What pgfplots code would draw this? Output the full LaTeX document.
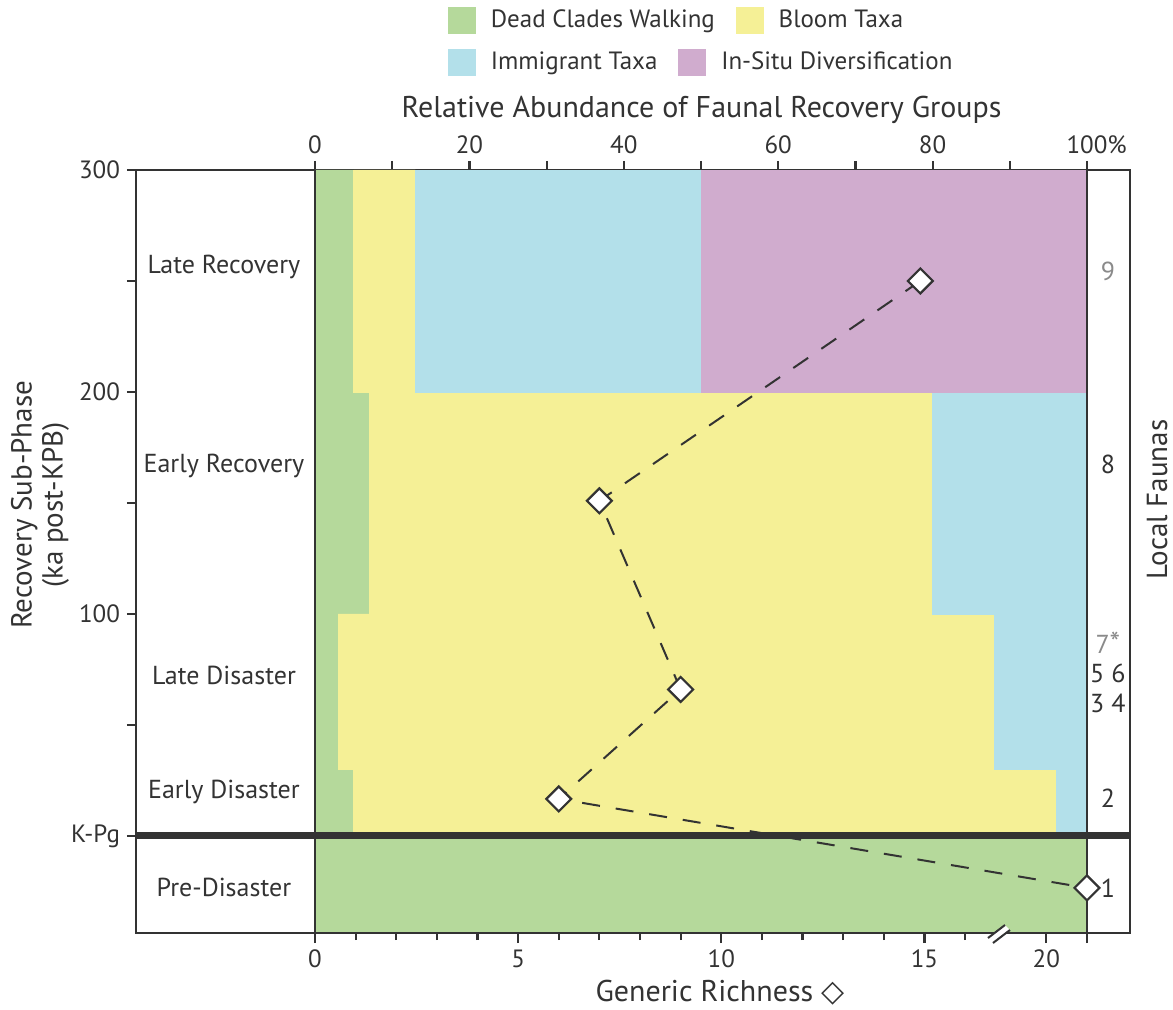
\documentclass[border=0pt]{standalone}
\usepackage{pgfplots}
\pgfplotsset{compat=1.18}
\usepackage{fontspec}
\setmainfont{PT Sans}
\newfontfamily\symfont{DejaVu Sans}
\definecolor{cgreen}{HTML}{B5D99B}
\definecolor{cyellow}{HTML}{F5F096}
\definecolor{cblue}{HTML}{B3E0EA}
\definecolor{cpurple}{HTML}{D0ACCE}
\definecolor{dk}{HTML}{333333}
\definecolor{gtext}{HTML}{8A8A8A}
\begin{document}
\begin{tikzpicture}
\useasboundingbox (-68pt,-38pt) rectangle (518.5pt,466.5pt);
\pgfplotsset{
  base/.style={
    scale only axis, width=497pt, height=381.5pt,
    at={(0,0)}, anchor=south west,
    ymin=-43.7, ymax=300,
    clip=false,
    axis line style={dk, line width=1.2pt},
    tick style={dk, line width=1.1pt},
    tick align=outside,
    every tick label/.append style={font=\fontsize{12.5}{14}\selectfont, text=dk},
    /pgf/number format/assume math mode=true,
    legend columns=2,
    legend image code/.code={\fill[##1] (0pt,-6.5pt) rectangle (13.5pt,6.5pt);},
  },
  legrow/.style={legend style={at={(axis description cs:0.3139,#1)}, anchor=west,
    draw=none, fill=none, inner sep=0pt, outer sep=0pt,
    font=\fontsize{12.5}{14}\selectfont, text=dk,
    nodes={inner sep=0pt},
    /tikz/every odd column/.append style={column sep=7.5pt},
    /tikz/every even column/.append style={column sep=10.5pt}}},
}
\begin{axis}[base, legrow=1.1966,
  major tick length=4.5pt, minor tick length=4.5pt,
  xmin=-23.19, xmax=105.57,
  xtick={0,20,40,60,80,100}, xticklabels={0,20,40,60,80,100\rlap{\%}},
  minor xtick={10,30,50,70,90},
  xtick pos=right, xticklabel pos=right,
  ytick={0,100,200,300}, yticklabels={K-Pg,100,200,300},
  minor ytick={50,150,250},
  ytick pos=left,
  xlabel={Relative Abundance of Faunal Recovery Groups},
  xlabel style={at={(axis description cs:0.569,1.0786)}, anchor=center, font=\fontsize{15}{17}\selectfont, text=dk},
  ylabel={Recovery Sub-Phase\\(ka post-KPB)},
  ylabel style={at={(axis description cs:-0.0966,0.561)}, anchor=center, align=center, font=\fontsize{14.5}{15.5}\selectfont, text=dk},
]
\addlegendimage{cgreen}\addlegendentry{Dead Clades Walking}
\addlegendimage{cyellow}\addlegendentry{Bloom Taxa}
% Dead Clades Walking
\addplot[fill=cgreen, draw=cgreen, line width=0.2pt, forget plot] coordinates {(0,-43.7) (100,-43.7) (100,0) (5,0) (5,30) (3,30) (3,100) (7,100) (7,200) (5,200) (5,300) (0,300)} -- cycle;
% Bloom Taxa
\addplot[fill=cyellow, draw=cyellow, line width=0.2pt, forget plot] coordinates {(5,0) (96,0) (96,30) (88,30) (88,100) (80,100) (80,200) (13,200) (13,300) (5,300) (5,200) (7,200) (7,100) (3,100) (3,30) (5,30)} -- cycle;
% Immigrant Taxa
\addplot[fill=cblue, draw=cblue, line width=0.2pt, forget plot] coordinates {(96,0) (100,0) (100,200) (80,200) (80,100) (88,100) (88,30) (96,30)} -- cycle;
\addplot[fill=cblue, draw=cblue, line width=0.2pt, forget plot] coordinates {(13,200) (50,200) (50,300) (13,300)} -- cycle;
% In-Situ Diversification
\addplot[fill=cpurple, draw=cpurple, line width=0.2pt, forget plot] coordinates {(50,200) (100,200) (100,300) (50,300)} -- cycle;
% frame lines
\draw[dk, line width=1.1pt] (axis cs:0,-43.7) -- (axis cs:0,300);
\draw[dk, line width=1.1pt] (axis cs:100,-43.7) -- (axis cs:100,300);
\draw[dk, line width=3.5pt] (axis cs:-23.19,0) -- (axis cs:105.57,0);
% phase labels
\begin{scope}[every node/.style={font=\fontsize{13}{15}\selectfont, text=dk}]
\node at (axis cs:-11.8,256.3) {Late Recovery};
\node at (axis cs:-11.8,166.7) {Early Recovery};
\node at (axis cs:-11.8,72.1) {Late Disaster};
\node at (axis cs:-11.8,19.8) {Early Disaster};
\node at (axis cs:-11.8,-23.4) {Pre-Disaster};
\node[text=gtext] at (axis cs:102.7,254.5) {9};
\node at (axis cs:102.7,167.6) {8};
\node[text=gtext] at (axis cs:102.7,86.9) {7{\fontsize{15}{15}\selectfont*}};
\node at (axis cs:102.7,73.4) {5 6};
\node at (axis cs:102.7,59.9) {3 4};
\node at (axis cs:102.7,17.1) {2};
\node at (axis cs:102.7,-23.4) {1};
\end{scope}
\node[rotate=90, font=\fontsize{14.5}{16}\selectfont, text=dk] at (axis description cs:1.0272,0.568) {Local Faunas};
\end{axis}
\begin{axis}[base, legrow=1.1416,
  major tick length=5pt, minor tick length=3.5pt,
  xmin=-4.405, xmax=20.06,
  axis x line*=bottom, axis y line=none, x axis line style={-},
  xtick={0,5,10,15,18,19}, xticklabels={0,5,10,15,20,{}},
  minor xtick={1,2,3,4,6,7,8,9,11,12,13,14,16},
  xlabel={Generic Richness {\symfont ◇}},
  xlabel style={at={(axis description cs:0.5875,-0.0786)}, anchor=center, font=\fontsize{15}{17}\selectfont, text=dk},
]
\addlegendimage{cblue}\addlegendentry{Immigrant Taxa}
\addlegendimage{cpurple}\addlegendentry{In-Situ Diversification}
\addplot[dk, line width=1pt, dash pattern=on 9pt off 8pt, mark=square*, mark size=4.4pt,
  mark options={solid, rotate=45, fill=white, draw=dk, line width=1.1pt}, forget plot]
  coordinates {(14.9,250) (7,151) (9,66) (6,16.7) (19,-23.4)};
% axis break
\fill[white] (axis cs:16.86,-43.7) ++(-6pt,-2.5pt) -- ++(8.5pt,6.5pt) -- ++(2.5pt,-2.5pt) -- ++(-8.5pt,-6.5pt) -- cycle;
\draw[dk, line width=1pt] (axis cs:16.86,-43.7) ++(-6pt,-2.5pt) -- ++(8.5pt,6.5pt);
\draw[dk, line width=1pt] (axis cs:16.86,-43.7) ++(-3.5pt,-5pt) -- ++(8.5pt,6.5pt);
\end{axis}
\end{tikzpicture}
\end{document}
